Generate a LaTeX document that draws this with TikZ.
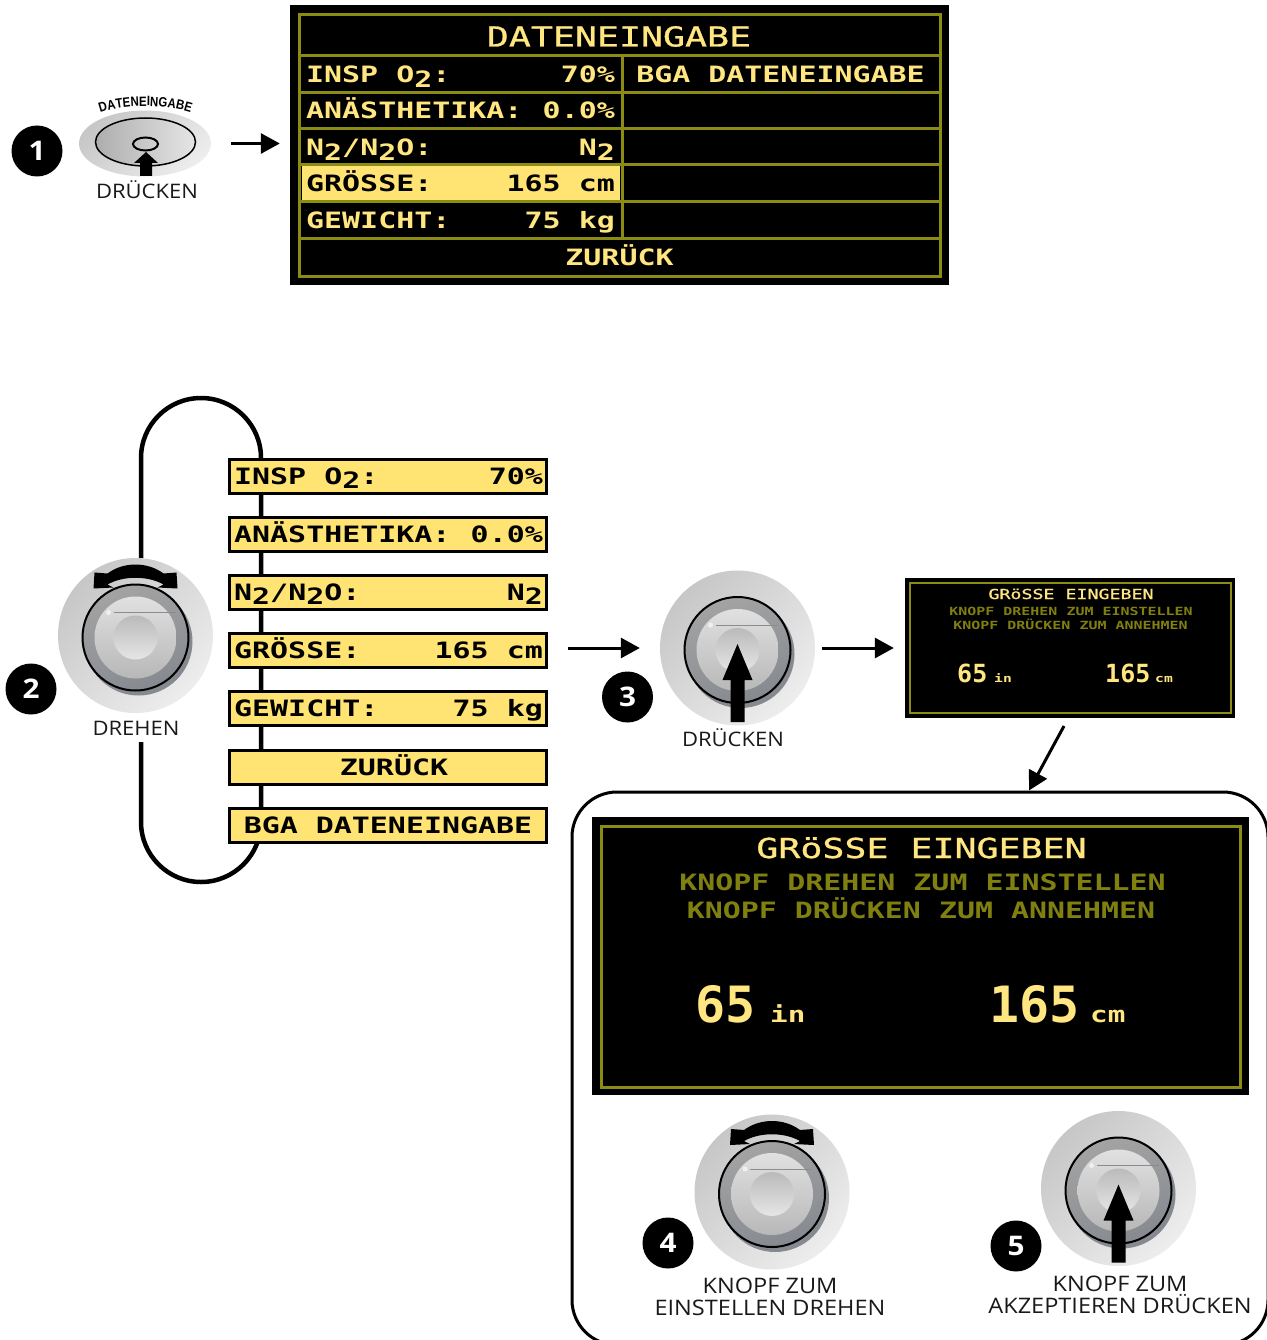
\documentclass[tikz,border=0pt]{standalone}
\usepackage{fontspec}
\setmainfont[FakeStretch=1.1]{Open Sans}
\newfontfamily\lcdfont[FakeStretch=1.33]{DejaVu Sans Mono}
\newfontfamily\lcdmedium[FakeStretch=1.33,FakeBold=1]{DejaVu Sans Mono}
\newfontfamily\lcdtall{DejaVu Sans Mono}
\newfontfamily\capfont[FakeStretch=0.85]{Liberation Sans}
\usetikzlibrary{arrows.meta,positioning,decorations.text}
\definecolor{lcdyellow}{RGB}{255,230,128}
\definecolor{lcdolive}{RGB}{140,140,20}
\definecolor{lcdhinttext}{RGB}{128,128,16}
\definecolor{menuyellow}{RGB}{255,228,115}
\definecolor{knobdark}{RGB}{134,138,144}
\newcommand{\lcdlow}[1]{\raisebox{-0.2em}{#1}}
\tikzset{
  screenbox/.style={fill=black, inner sep=0pt},
  lcdline/.style={draw=lcdolive, line width=3pt},
  lcdrow/.style={inner sep=0pt, text=lcdyellow, font=\lcdfont\bfseries\fontsize{22.5}{24}\selectfont},
  lcdtitle/.style={inner sep=0pt, text=lcdyellow, font=\lcdmedium\fontsize{27.5}{29}\selectfont},
  lcdhint/.style={inner sep=0pt, text=lcdhinttext, font=\lcdfont\bfseries\fontsize{22.5}{24}\selectfont},
  lcdtitlesmall/.style={inner sep=0pt, text=lcdyellow, font=\lcdmedium\fontsize{13.75}{15}\selectfont},
  lcdhintsmall/.style={inner sep=0pt, text=lcdhinttext, font=\lcdfont\bfseries\fontsize{11.25}{13}\selectfont},
  lcdbig/.style={inner sep=0pt, text=lcdyellow, font=\lcdtall\bfseries\fontsize{50}{52}\selectfont},
  lcdbigsmall/.style={inner sep=0pt, text=lcdyellow, font=\lcdtall\bfseries\fontsize{25}{27}\selectfont},
  lcdunit/.style={inner sep=0pt, text=lcdyellow, font=\lcdfont\bfseries\fontsize{22}{24}\selectfont},
  lcdunitsmall/.style={inner sep=0pt, text=lcdyellow, font=\lcdfont\bfseries\fontsize{11}{13}\selectfont},
  menubox/.style={draw=black, line width=3pt, fill=menuyellow, inner sep=0pt,
    minimum width=317pt, minimum height=34pt, text=black, text height=16pt, text depth=0pt,
    font=\lcdfont\bfseries\fontsize{22.5}{24}\selectfont},
  menutext/.style={inner sep=0pt, text=black, font=\lcdfont\bfseries\fontsize{22.5}{24}\selectfont},
  stepmark/.style={circle, fill=black, text=white, minimum size=51pt, inner sep=0pt,
    font=\bfseries\fontsize{27}{31}\selectfont},
  caption/.style={inner sep=0pt, align=center, text=black!90,
    font=\fontsize{20}{22}\selectfont},
  captionwide/.style={caption, font=\fontsize{21.4}{22}\selectfont},
  knobspot/.style={circle, minimum size=155pt, inner sep=0pt},
  flowarrow/.style={-{Triangle[length=19pt,width=20pt]}, line width=3pt},
  looppath/.style={line width=4.5pt, black},
  knobface/.pic={
    \shade[top color=black!22, bottom color=black!7, shading angle=45] (0,0) circle[radius=77.5pt];
    \fill[knobdark] (3,6) circle[radius=54pt];
    \shade[draw=black, line width=2pt, top color=black!36, bottom color=knobdark, shading angle=20] (0,2) circle[radius=53pt];
    \shade[top color=black!12, bottom color=black!28] (0,2) circle[radius=41pt];
    \shade[top color=black!27, bottom color=black!10] (0,2) circle[radius=22pt];
    \draw[black!45, line width=0.5pt] (-22,-23) -- (40,-23);
    \fill[black!6] (-27,-23) circle[radius=2.5pt];
  },
  turnarrow/.pic={
    \fill[black] (-41,-63) -- (-42,-47) -- (-22,-48) -- (-28,-51)
      .. controls (-12,-60) and (12,-60) .. (28,-51)
      -- (22,-48) -- (42,-47) -- (41,-63) -- (28,-62)
      .. controls (12,-74) and (-12,-74) .. (-28,-62) -- cycle;
  },
  pressarrow/.pic={
    \fill[black] (-7,74) -- (-7,32) -- (-15,32) -- (0,-4) -- (15,32) -- (7,32) -- (7,74) -- cycle;
  },
}

\begin{document}
\begin{tikzpicture}[x=1pt,y=-1pt]
  \useasboundingbox[fill=white] (0,0) rectangle (1266,1340);

  % first step: button and data screen
  \node[inner sep=0pt, minimum width=132pt, minimum height=67pt] (buttontop) at (145,143.5) {};
  \shade[top color=black!22, bottom color=black!7, shading angle=45] (145,143.5) ellipse[x radius=66pt, y radius=33pt];
  \shade[draw=black, line width=1.5pt, left color=black!32, right color=black!10] (145.5,142) ellipse[x radius=50pt, y radius=24pt];
  \draw[black, line width=2pt] (145.5,144) ellipse[x radius=12.5pt, y radius=6.5pt];
  \fill[black] (140,176) -- (140,163) -- (134,163) -- (146,152) -- (158,163) -- (152,163) -- (152,176) -- cycle;
  \path[decorate, decoration={text along path, text align=center,
      text={|\capfont\bfseries\fontsize{13.5}{15}\selectfont|DATENEINGABE}}]
    (94,115) .. controls (120,103) and (170,103) .. (197,115);
  \node[stepmark] (markone) at (37,151) {1};
  \node[caption] (captionone) at (147,189.5) {DRÜCKEN};

  \node[screenbox, minimum width=659pt, minimum height=280pt] (screentop) at (619.5,145) {};
  \fill[menuyellow] (302,166) rectangle (620,201);
  \draw[lcdline] (299,15) rectangle (940,276);
  \draw[lcdline] (299,55.5) -- (940,55.5);
  \draw[lcdline] (299,92.5) -- (940,92.5);
  \draw[lcdline] (299,128.5) -- (940,128.5);
  \draw[lcdline] (299,165) -- (940,165);
  \draw[lcdline] (299,201.5) -- (940,201.5);
  \draw[lcdline] (299,238.5) -- (940,238.5);
  \draw[lcdline] (622,55) -- (622,238);
  \node[lcdtitle, anchor=base] (datatitle) at (619,46.5) {DATENEINGABE};
  \node[lcdrow, anchor=base west] (inspname) at (306,83) {INSP O\lcdlow{2}:};
  \node[lcdrow, anchor=base east] (inspvalue) at (615,83) {70\%};
  \node[lcdrow, anchor=base west] (anaename) at (306,119) {ANÄSTHETIKA:};
  \node[lcdrow, anchor=base east] (anaevalue) at (615,119) {0.0\%};
  \node[lcdrow, anchor=base west] (gasname) at (306,156) {N\lcdlow{2}/N\lcdlow{2}O:};
  \node[lcdrow, anchor=base east] (gasvalue) at (615,156) {N\lcdlow{2}};
  \node[lcdrow, anchor=base west, text=black] (sizename) at (306,192) {GRÖSSE:};
  \node[lcdrow, anchor=base east, text=black] (sizevalue) at (615,192) {165 cm};
  \node[lcdrow, anchor=base west] (weightname) at (306,229) {GEWICHT:};
  \node[lcdrow, anchor=base east] (weightvalue) at (615,229) {75 kg};
  \node[lcdrow, anchor=base] (bgaentry) at (780.5,83) {BGA DATENEINGABE};
  \node[lcdrow, anchor=base] (backentry) at (619.5,265.5) {ZURÜCK};
  \draw[flowarrow, shorten <=20pt, shorten >=10pt] (buttontop.east) -- (buttontop.east -| screentop.west);

  % second step: knob and the menu loop
  \draw[looppath] (141,558) -- (141,458) arc[start angle=180, end angle=0, radius=60pt] -- (261,822)
    arc[start angle=0, end angle=-180, radius=60pt] -- (141,742);
  \node[menubox] (menuinsp) at (388,476) {};
  \node[menubox] (menuanae) at (388,534) {};
  \node[menubox] (menugas) at (388,592.5) {};
  \node[menubox] (menusize) at (388,650.5) {};
  \node[menubox] (menuweight) at (388,708.5) {};
  \node[menubox] (menuback) at (388,767.5) {\hspace*{12pt}ZURÜCK};
  \node[menubox] (menubga) at (388,825.5) {BGA DATENEINGABE};
  \node[menutext, anchor=base west] (menuinspname) at (234,484) {INSP O\lcdlow{2}:};
  \node[menutext, anchor=base east] (menuinspvalue) at (543,484) {70\%};
  \node[menutext, anchor=base west] (menuanaename) at (234,542) {ANÄSTHETIKA:};
  \node[menutext, anchor=base east] (menuanaevalue) at (543,542) {0.0\%};
  \node[menutext, anchor=base west] (menugasname) at (234,600) {N\lcdlow{2}/N\lcdlow{2}O:};
  \node[menutext, anchor=base east] (menugasvalue) at (543,600) {N\lcdlow{2}};
  \node[menutext, anchor=base west] (menusizename) at (234,658) {GRÖSSE:};
  \node[menutext, anchor=base east] (menusizevalue) at (543,658) {165 cm};
  \node[menutext, anchor=base west] (menuweightname) at (234,716) {GEWICHT:};
  \node[menutext, anchor=base east] (menuweightvalue) at (543,716) {75 kg};
  \node[knobspot] (knobtwo) at (135.5,635.5) {};
  \pic at (knobtwo.center) {knobface};
  \pic at (knobtwo.center) {turnarrow};
  \node[stepmark] (marktwo) at (31,689) {2};
  \node[caption] (captiontwo) at (136,728) {DREHEN};

  % third step: press and small screen
  \node[knobspot] (knobthree) at (737.5,648) {};
  \pic at (knobthree.center) {knobface};
  \pic at (knobthree.center) {pressarrow};
  \node[stepmark] (markthree) at (627.5,697) {3};
  \node[caption] (captionthree) at (733,737.5) {DRÜCKEN};
  \draw[flowarrow, shorten <=20pt, shorten >=20pt] (menusize.east |- knobthree.west) -- (knobthree.west);

  \node[screenbox, minimum width=330pt, minimum height=140pt] (screensmall) at (1070,648) {};
  \draw[lcdline, line width=2pt] (910,583) rectangle (1231,713);
  \node[lcdtitlesmall, anchor=base] (smalltitle) at (1071,599) {GRöSSE EINGEBEN};
  \node[lcdhintsmall, anchor=base] (smallturn) at (1071,615) {KNOPF DREHEN ZUM EINSTELLEN};
  \node[lcdhintsmall, anchor=base] (smallpress) at (1070.5,629) {KNOPF DRÜCKEN ZUM ANNEHMEN};
  \node[lcdbigsmall, anchor=base west] (smallinch) at (957,682) {65};
  \node[lcdunitsmall, anchor=base west] (smallinchunit) at (994,682) {in};
  \node[lcdbigsmall, anchor=base west] (smallcm) at (1105,682) {165};
  \node[lcdunitsmall, anchor=base west] (smallcmunit) at (1155,682) {cm};
  \draw[flowarrow, shorten <=7pt, shorten >=11pt] (knobthree.east) -- (knobthree.east -| screensmall.west);

  % last steps: framed large screen
  \node[draw=black, line width=3pt, rounded corners=45pt, inner sep=0pt,
    minimum width=696pt, minimum height=553pt] (panel) at (920,1068.5) {};
  \coordinate (dropstart) at (1064,726);
  \draw[flowarrow] (dropstart) -- ([xshift=109pt]panel.north);
  \node[screenbox, minimum width=657pt, minimum height=278pt] (screenlarge) at (920.5,956) {};
  \draw[lcdline] (601,826.5) rectangle (1240,1087);
  \node[lcdtitle, anchor=base] (largetitle) at (921.5,858) {GRöSSE EINGEBEN};
  \node[lcdhint, anchor=base] (largeturn) at (922.5,890) {KNOPF DREHEN ZUM EINSTELLEN};
  \node[lcdhint, anchor=base] (largepress) at (921,918) {KNOPF DRÜCKEN ZUM ANNEHMEN};
  \node[lcdbig, anchor=base west] (largeinch) at (695,1022) {65};
  \node[lcdunit, anchor=base west] (largeinchunit) at (770,1022) {in};
  \node[lcdbig, anchor=base west] (largecm) at (989,1022) {165};
  \node[lcdunit, anchor=base west] (largecmunit) at (1090,1022) {cm};

  \node[knobspot] (knobfour) at (772,1192) {};
  \pic at (knobfour.center) {knobface};
  \pic at (knobfour.center) {turnarrow};
  \node[stepmark] (markfour) at (668,1243) {4};
  \node[captionwide] (captionfour) at (770,1296.5) {KNOPF ZUM\\EINSTELLEN DREHEN};

  \node[knobspot] (knobfive) at (1118.5,1188.5) {};
  \pic at (knobfive.center) {knobface};
  \pic at (knobfive.center) {pressarrow};
  \node[stepmark] (markfive) at (1016,1246) {5};
  \node[captionwide] (captionfive) at (1120,1294.5) {KNOPF ZUM\\AKZEPTIEREN DRÜCKEN};
\end{tikzpicture}
\end{document}
